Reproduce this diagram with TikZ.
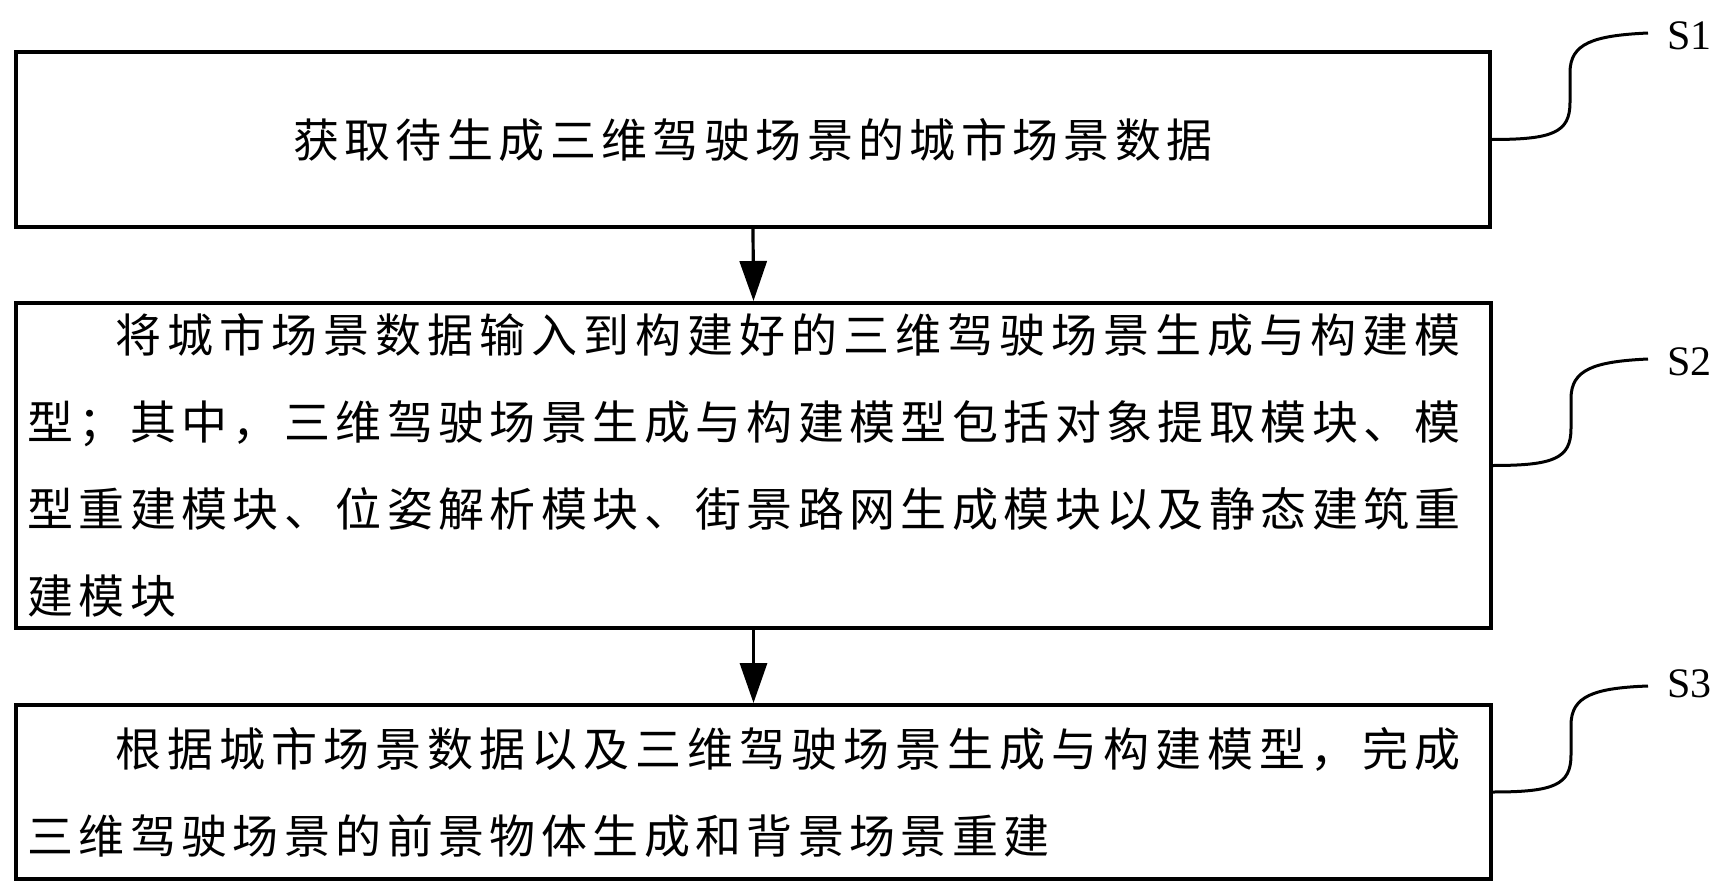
\documentclass[tikz,border=0pt]{standalone}
\usepackage{fontspec}
\setmainfont{Liberation Serif}
\newfontfamily\cjk[LetterSpace=11.7]{Noto Sans CJK SC}
\newfontfamily\cjkwide[LetterSpace=13.0]{Noto Sans CJK SC}
\usetikzlibrary{arrows.meta,calc}
\newcommand\mkleader[2]{\draw[lead] (#1.east) .. controls ($(#1.east)+(61,0)$) and ($(#1.east)+(78,-7)$) .. ($(#1.east)+(78,-37)$) -- ($(#1.east)+(78,-67)$) .. controls ($(#1.east)+(78,-96)$) and ($(#1.east)+(101,-104)$) .. (#2);}
\begin{document}
\begin{tikzpicture}[x=0.5pt,y=-0.5pt,
  box/.style={draw,line width=2pt,inner sep=0pt,font=\cjk\fontsize{23}{43.5}\selectfont},
  arr/.style={line width=1.6pt,-{Triangle[length=20pt,width=13.5pt]}},
  lead/.style={line width=1.5pt},
  slabel/.style={anchor=west,inner sep=0pt,font=\fontsize{21}{21}\selectfont}]
\useasboundingbox (0,0) rectangle (1731,894);
\node[box,anchor=north west,minimum width=737pt,minimum height=87.5pt] (b1) at (14,50) {获取待生成三维驾驶场景的城市场景数据};
\node[box,anchor=north west,minimum width=737.5pt,minimum height=162.5pt,text width=726pt,align=left,inner xsep=5.5pt] (b2) at (14,301) {\hspace*{44pt}{\cjkwide 将城市场景数据输入到构建好的三维驾驶场景生成与构建模}\\型；其中，三维驾驶场景生成与构建模型包括对象提取模块、模\\型重建模块、位姿解析模块、街景路网生成模块以及静态建筑重\\建模块};
\node[box,anchor=north west,minimum width=737.5pt,minimum height=87pt,text width=726pt,align=left,inner xsep=5.5pt] (b3) at (14,703) {\hspace*{44pt}{\cjkwide 根据城市场景数据以及三维驾驶场景生成与构建模型，完成}\\三维驾驶场景的前景物体生成和背景场景重建};
\draw[arr] (b1.south) -- (b2.north);
\draw[arr] (b2.south) -- (b3.north);
\coordinate (e1) at (1648,33);
\coordinate (e2) at (1648,359);
\coordinate (e3) at (1648,686);
\mkleader{b1}{e1}
\mkleader{b2}{e2}
\mkleader{b3}{e3}
\node[slabel] (s1) at (1667,36) {S1};
\node[slabel] (s2) at (1667,362) {S2};
\node[slabel] (s3) at (1667,684) {S3};
\end{tikzpicture}
\end{document}
